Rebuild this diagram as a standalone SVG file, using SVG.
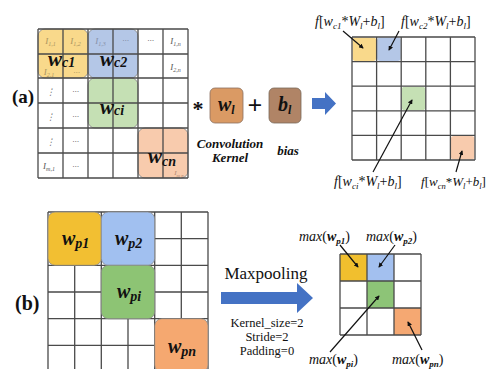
<svg xmlns="http://www.w3.org/2000/svg" width="490" height="369" viewBox="0 0 490 369">
<defs>
<style>
.g{stroke:#4a4a4a;stroke-width:1.3;fill:none}
.s{font-family:"Liberation Serif","DejaVu Serif",serif}
.sm{font-family:"Liberation Serif","DejaVu Serif",serif;font-style:italic;font-size:9px;fill:#8a8a8a;text-anchor:middle}
.dk{fill:#555}
.big{font-family:"Liberation Serif",serif;font-weight:bold;font-style:italic;fill:#111}
.lab{font-family:"Liberation Serif",serif;font-size:14px;fill:#111}
.i{font-style:italic}
.ln{stroke:#111;stroke-width:1.2;fill:none;marker-end:url(#ah)}
.arr{fill:#4472C4}
.blk{stroke:#8a8a8a;stroke-width:0.8}
</style>
<marker id="ah" viewBox="0 0 6 6" refX="5" refY="3" markerWidth="4" markerHeight="4" orient="auto">
<path d="M0,0 L6,3 L0,6 z" fill="#111"/>
</marker>
</defs>
<rect width="490" height="369" fill="#fff"/>

<!-- (a) input matrix -->
<g id="input-a">
<rect x="38" y="29" width="50" height="49" rx="7" fill="#F9D98B" class="blk"/>
<rect x="88" y="29" width="50" height="49" rx="7" fill="#B4C7E7" class="blk"/>
<rect x="88" y="78" width="50" height="50" rx="7" fill="#C5E0B4" class="blk"/>
<rect x="138" y="128" width="50" height="50" rx="7" fill="#F8CBAD" class="blk"/>
<path class="g" d="M38,29H188M38,54H188M38,78H188M38,103H188M38,128H188M38,153H188M38,178H188M38,29V178M63,29V178M88,29V178M113,29V178M138,29V178M163,29V178M188,29V178"/>
<g class="sm">
<text x="50.5" y="44" fill="#A8935E">I<tspan font-size="6" dy="2">1,1</tspan></text>
<text x="75.5" y="44" fill="#A8935E">I<tspan font-size="6" dy="2">1,2</tspan></text>
<text x="100.5" y="44" fill="#8790A8">I<tspan font-size="6" dy="2">1,3</tspan></text>
<text x="125.5" y="43" fill="#7a8298">···</text>
<text x="150.5" y="43" class="dk">···</text>
<text x="175.5" y="44" class="dk">I<tspan font-size="6" dy="2">1,n</tspan></text>
<text x="49" y="75" fill="#A8935E">I<tspan font-size="6" dy="2">2,1</tspan></text>
<text x="76.5" y="75" fill="#A8935E">···</text>
<text x="175.5" y="70" class="dk">I<tspan font-size="6" dy="2">2,n</tspan></text>
<text x="50.5" y="95" class="dk">⋮</text>
<text x="75.5" y="94" class="dk">···</text>
<text x="50.5" y="120" class="dk">⋮</text>
<text x="75.5" y="119" class="dk">···</text>
<text x="50.5" y="145" class="dk">⋮</text>
<text x="75.5" y="144" class="dk">···</text>
<text x="49" y="169" class="dk">I<tspan font-size="6" dy="2">m,1</tspan></text>
<text x="75.5" y="169" class="dk">···</text>
<text x="179" y="175" font-size="7" fill="#b08a70">I<tspan font-size="5" dy="1.5">m,n</tspan></text>
</g>
<text class="big" x="48" y="66" font-size="21">w<tspan font-size="14" dy="1">c1</tspan></text>
<text class="big" x="100" y="66" font-size="21">w<tspan font-size="14" dy="1">c2</tspan></text>
<text class="big" x="100" y="114" font-size="21">w<tspan font-size="14" dy="1">ci</tspan></text>
<text class="big" x="148" y="163" font-size="21">w<tspan font-size="14" dy="3">cn</tspan></text>
</g>

<text class="s" x="12" y="103" font-size="19" font-weight="bold" fill="#111">(a)</text>

<g id="op-star"><text class="s" x="198" y="116" font-size="22" font-weight="bold" text-anchor="middle" fill="#111">*</text></g>

<g id="kernel">
<rect x="210" y="88" width="33" height="35" rx="5" fill="#DA9A64" stroke="#8a7060" stroke-width="0.8"/>
<text class="big" x="218" y="111" font-size="20">w<tspan font-size="12" dy="3">l</tspan></text>
<text class="big" x="230" y="148" font-size="13" text-anchor="middle">Convolution</text>
<text class="big" x="230" y="162" font-size="13" text-anchor="middle">Kernel</text>
</g>

<g id="op-plus"><text class="s" x="255" y="114" font-size="26" font-weight="bold" text-anchor="middle" fill="#111">+</text></g>

<g id="bias">
<rect x="269" y="88" width="32" height="35" rx="5" fill="#B08466" stroke="#7a6a5a" stroke-width="0.8"/>
<text class="big" x="278" y="111" font-size="20">b<tspan font-size="12" dy="3">l</tspan></text>
<text class="big" x="288" y="155" font-size="13" text-anchor="middle">bias</text>
</g>

<!-- (a) output feature map -->
<g id="output-a">
<rect x="352.5" y="37.5" width="23.6" height="23.6" rx="3" fill="#F9D98B"/>
<rect x="377.1" y="37.5" width="23.6" height="23.6" rx="3" fill="#B4C7E7"/>
<rect x="401.7" y="86.7" width="23.6" height="23.6" rx="3" fill="#C5E0B4"/>
<rect x="450.9" y="135.9" width="23.6" height="23.6" rx="3" fill="#F8CBAD"/>
<path class="g" d="M352,37H475M352,61.6H475M352,86.2H475M352,110.8H475M352,135.4H475M352,160H475M352,37V160M376.6,37V160M401.2,37V160M425.8,37V160M450.4,37V160M475,37V160"/>
</g>

<g id="labels-a" class="lab">
<text x="315" y="26"><tspan class="i">f</tspan>[<tspan class="i">w</tspan><tspan class="i" font-size="9" dy="3">c1</tspan><tspan dy="-3">*</tspan><tspan class="i">W</tspan><tspan class="i" font-size="9" dy="3">l</tspan><tspan dy="-3">+</tspan><tspan class="i">b</tspan><tspan class="i" font-size="9" dy="3">l</tspan><tspan dy="-3">]</tspan></text>
<text x="401" y="26"><tspan class="i">f</tspan>[<tspan class="i">w</tspan><tspan class="i" font-size="9" dy="3">c2</tspan><tspan dy="-3">*</tspan><tspan class="i">W</tspan><tspan class="i" font-size="9" dy="3">l</tspan><tspan dy="-3">+</tspan><tspan class="i">b</tspan><tspan class="i" font-size="9" dy="3">l</tspan><tspan dy="-3">]</tspan></text>
<text x="334" y="186"><tspan class="i">f</tspan>[<tspan class="i">w</tspan><tspan class="i" font-size="9" dy="3">ci</tspan><tspan dy="-3">*</tspan><tspan class="i">W</tspan><tspan class="i" font-size="9" dy="3">l</tspan><tspan dy="-3">+</tspan><tspan class="i">b</tspan><tspan class="i" font-size="9" dy="3">l</tspan><tspan dy="-3">]</tspan></text>
<text x="421" y="186" font-size="13"><tspan class="i">f</tspan>[<tspan class="i">w</tspan><tspan class="i" font-size="8.5" dy="3">cn</tspan><tspan dy="-3">*</tspan><tspan class="i">W</tspan><tspan class="i" font-size="8.5" dy="3">l</tspan><tspan dy="-3">+</tspan><tspan class="i">b</tspan><tspan class="i" font-size="8.5" dy="3">l</tspan><tspan dy="-3">]</tspan></text>
</g>

<!-- (b) input matrix -->
<g id="input-b">
<path class="g" d="M48,212H208M48,238.7H208M48,265.3H208M48,292H208M48,318.7H208M48,345.3H208M48,212V372M74.7,212V372M101.3,212V372M128,212V372M154.7,212V372M181.3,212V372M208,212V372"/>
<rect x="48" y="212" width="53.3" height="53.3" rx="7" fill="#F2BF32" class="blk"/>
<rect x="101.3" y="212" width="53.4" height="53.3" rx="7" fill="#A1C0F0" class="blk"/>
<rect x="101.3" y="265.3" width="53.4" height="53.4" rx="7" fill="#8DC474" class="blk"/>
<rect x="154.7" y="318.7" width="53.3" height="53.3" rx="7" fill="#F5A870" class="blk"/>
<text class="big" x="62" y="245" font-size="20">w<tspan font-size="14" dy="3">p1</tspan></text>
<text class="big" x="115" y="245" font-size="20">w<tspan font-size="14" dy="3">p2</tspan></text>
<text class="big" x="117" y="298" font-size="20">w<tspan font-size="14" dy="3">pi</tspan></text>
<text class="big" x="168" y="353" font-size="20">w<tspan font-size="14" dy="3">pn</tspan></text>
</g>

<text class="s" x="15" y="310" font-size="20" font-weight="bold" fill="#111">(b)</text>

<g id="maxpool-op">
<text class="s" x="266" y="279" font-size="17" text-anchor="middle" fill="#111">Maxpooling</text>
<text class="s" x="267" y="327" font-size="12.5" text-anchor="middle" fill="#111">Kernel_size=2</text>
<text class="s" x="267" y="341" font-size="12.5" text-anchor="middle" fill="#111">Stride=2</text>
<text class="s" x="267" y="355" font-size="12.5" text-anchor="middle" fill="#111">Padding=0</text>
</g>

<!-- (b) pooled map -->
<g id="output-b">
<rect x="340" y="254" width="27" height="27" fill="#F1BF2E"/>
<rect x="367" y="254" width="27" height="27" fill="#A3C0EF"/>
<rect x="367" y="281" width="27" height="27" fill="#8DC477"/>
<rect x="394" y="308" width="27" height="27" fill="#F5A872"/>
<path class="g" d="M340,254H421M340,281H421M340,308H421M340,335H421M340,254V335M367,254V335M394,254V335M421,254V335"/>
</g>

<g id="labels-b" class="lab">
<text x="299" y="241"><tspan class="i">max</tspan>(<tspan class="i" font-weight="bold">w</tspan><tspan class="i" font-weight="bold" font-size="9" dy="3">p1</tspan><tspan dy="-3">)</tspan></text>
<text x="366" y="241"><tspan class="i">max</tspan>(<tspan class="i" font-weight="bold">w</tspan><tspan class="i" font-weight="bold" font-size="9" dy="3">p2</tspan><tspan dy="-3">)</tspan></text>
<text x="309" y="364"><tspan class="i">max</tspan>(<tspan class="i" font-weight="bold">w</tspan><tspan class="i" font-weight="bold" font-size="9" dy="3">pi</tspan><tspan dy="-3">)</tspan></text>
<text x="392" y="364"><tspan class="i">max</tspan>(<tspan class="i" font-weight="bold">w</tspan><tspan class="i" font-weight="bold" font-size="9" dy="3">pn</tspan><tspan dy="-3">)</tspan></text>
</g>

<g id="connectors">
<polygon class="arr" points="312,98 325,98 325,92 336,103.5 325,115 325,109 312,109"/>
<polygon class="arr" points="221,292 297,292 297,283 313,298 297,313 297,304 221,304"/>
<line class="ln" x1="343" y1="31" x2="363" y2="48"/>
<line class="ln" x1="399" y1="31" x2="389" y2="50"/>
<line class="ln" x1="373" y1="172" x2="412" y2="100"/>
<line class="ln" x1="456" y1="172" x2="462" y2="151"/>
<line class="ln" x1="340" y1="245" x2="358" y2="267"/>
<line class="ln" x1="395" y1="245" x2="379" y2="267"/>
<line class="ln" x1="330" y1="352" x2="379" y2="296"/>
<line class="ln" x1="422" y1="350" x2="408" y2="322"/>
</g>
</svg>
